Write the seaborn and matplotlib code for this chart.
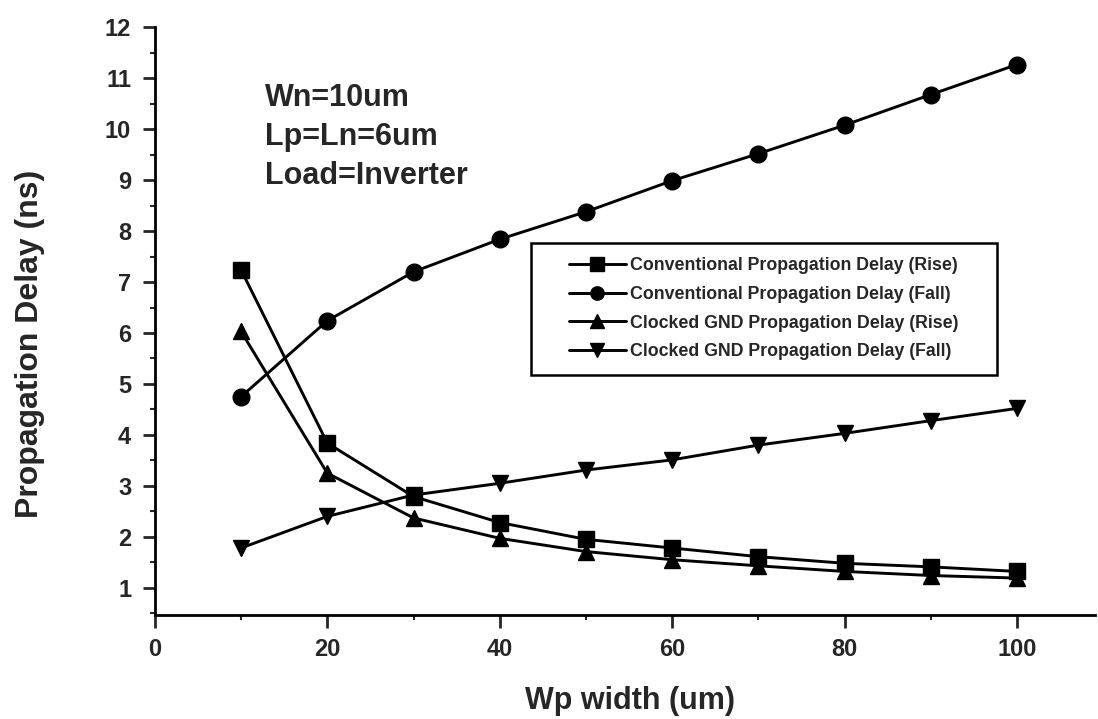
import numpy as np
import pandas as pd
import matplotlib
matplotlib.use("Agg")
import matplotlib.pyplot as plt
import matplotlib.transforms as mtransforms
from matplotlib.patches import Rectangle
import seaborn as sns
from matplotlib.ticker import MultipleLocator

# ---- data ----
wp_width = [10, 20, 30, 40, 50, 60, 70, 80, 90, 100]
conv_rise = [7.24, 3.84, 2.79, 2.28, 1.95, 1.78, 1.61, 1.48, 1.41, 1.32]
conv_fall = [4.75, 6.24, 7.20, 7.84, 8.38, 8.99, 9.52, 10.08, 10.68, 11.27]
clk_rise = [6.03, 3.25, 2.37, 1.97, 1.71, 1.55, 1.43, 1.32, 1.24, 1.19]
clk_fall = [1.78, 2.40, 2.82, 3.05, 3.31, 3.51, 3.80, 4.03, 4.28, 4.52]
series_names = [
    "Conventional Propagation Delay (Rise)",
    "Conventional Propagation Delay (Fall)",
    "Clocked GND Propagation Delay (Rise)",
    "Clocked GND Propagation Delay (Fall)",
]
x_ticks = [0, 20, 40, 60, 80, 100]
y_ticks = [1, 2, 3, 4, 5, 6, 7, 8, 9, 10, 11, 12]
annotation = "Wn=10um\nLp=Ln=6um\nLoad=Inverter"

df = pd.concat([
    pd.DataFrame({"Wp": wp_width, "Delay": vals, "Series": name})
    for name, vals in zip(series_names, [conv_rise, conv_fall, clk_rise, clk_fall])
], ignore_index=True)

sns.set_style("ticks")
plt.rcParams["font.family"] = ["Liberation Sans", "DejaVu Sans"]

fig = plt.figure(figsize=(10.98, 7.19), dpi=100)
ax = fig.add_axes([0.141, 0.145, 0.856, 0.817])

markers = dict(zip(series_names, ["s", "o", "^", "v"]))
sns.lineplot(data=df, x="Wp", y="Delay", hue="Series", style="Series",
             hue_order=series_names, style_order=series_names,
             palette=["black"] * 4, markers=markers, dashes=False,
             markersize=12, linewidth=2.1, markeredgecolor="black",
             markeredgewidth=1, ax=ax)

ax.set_xlim(0, 109)
ax.set_ylim(0.47, 12.0)
ax.set_xticks(x_ticks)
ax.set_yticks(y_ticks)
ax.xaxis.set_minor_locator(MultipleLocator(10))
ax.yaxis.set_minor_locator(MultipleLocator(0.5))
ax.tick_params(which="major", direction="out", length=9, width=2, labelsize=17)
ax.tick_params(which="minor", direction="out", length=3.5, width=1.5)
ax.tick_params(axis="x", which="major", pad=8)
ax.tick_params(axis="y", which="major", pad=8)
for lab in ax.get_xticklabels() + ax.get_yticklabels():
    lab.set_fontweight("bold")

for side in ["top", "right"]:
    ax.spines[side].set_visible(False)
for side in ["left", "bottom"]:
    ax.spines[side].set_linewidth(2)
    ax.spines[side].set_color("black")

ax.set_xlabel("Wp width (um)", fontsize=22, fontweight="bold")
ax.set_ylabel("Propagation Delay (ns)", fontsize=23, fontweight="bold")
ax.xaxis.set_label_coords(0.506, -0.122)
ax.yaxis.set_label_coords(-0.117, 0.461)

ax.text(0.117, 0.905, annotation, transform=ax.transAxes, fontsize=22,
        fontweight="bold", va="top", ha="left", linespacing=1.38)

handles, labels = ax.get_legend_handles_labels()
leg = ax.legend(handles, labels, loc="upper left", bbox_to_anchor=(0.4255, 0.633),
                borderaxespad=0, frameon=False,
                prop={"weight": "bold", "size": 12.8},
                handlelength=3.2, handletextpad=0.25,
                markerscale=0.8, borderpad=0.8, labelspacing=0.66)

# legend frame widened horizontally like the original (extra side padding)
fig.canvas.draw()
bb = leg.get_window_extent()
extra = 24
frame = Rectangle((bb.x0 - extra, bb.y0), bb.width + 2 * extra, bb.height,
                  transform=mtransforms.IdentityTransform(), fill=False,
                  edgecolor="black", linewidth=1.8, zorder=5)
fig.add_artist(frame)

fig.savefig("out.png", dpi=100)
